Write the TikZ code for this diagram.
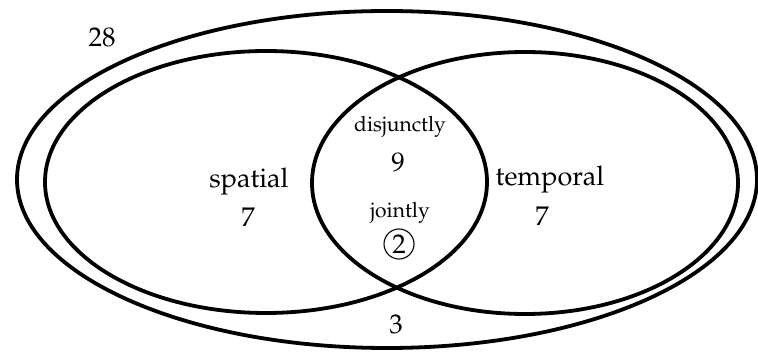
\documentclass[tikz,border=0pt]{standalone}
\usepackage[T1]{fontenc}
\usepackage{mathpazo}
\begin{document}
\begin{tikzpicture}[x=1pt,y=-1pt,
  setline/.style={line width=3.8pt},
  bigtxt/.style={font=\fontsize{27}{30}\selectfont, inner sep=0pt},
  smalltxt/.style={font=\fontsize{21}{24}\selectfont, inner sep=0pt},
  ringed/.style={draw, circle, line width=1.1pt, minimum size=30pt, inner sep=0pt, font=\fontsize{27}{30}\selectfont}]
\useasboundingbox (0,0) rectangle (758,352);
\draw[setline] (387,179.5) ellipse [x radius=370, y radius=168.5];
\draw[setline] (266,182) ellipse [x radius=221, y radius=131];
\draw[setline] (525,183) ellipse [x radius=213, y radius=131];
\node[bigtxt] (total) at (102,37) {28};
\node[bigtxt] (spl) at (249,182) {spatial};
\node[bigtxt] (spn) at (248,217) {7};
\node[bigtxt] (tpl) at (550,180) {temporal};
\node[bigtxt] (tpn) at (542,216) {7};
\node[smalltxt] (djl) at (400,127) {disjunctly};
\node[bigtxt] (djn) at (398,162) {9};
\node[smalltxt] (jtl) at (400,213) {jointly};
\node[ringed] (jtn) at (399,244) {2};
\node[bigtxt] (none) at (396,324) {3};
\end{tikzpicture}
\end{document}
